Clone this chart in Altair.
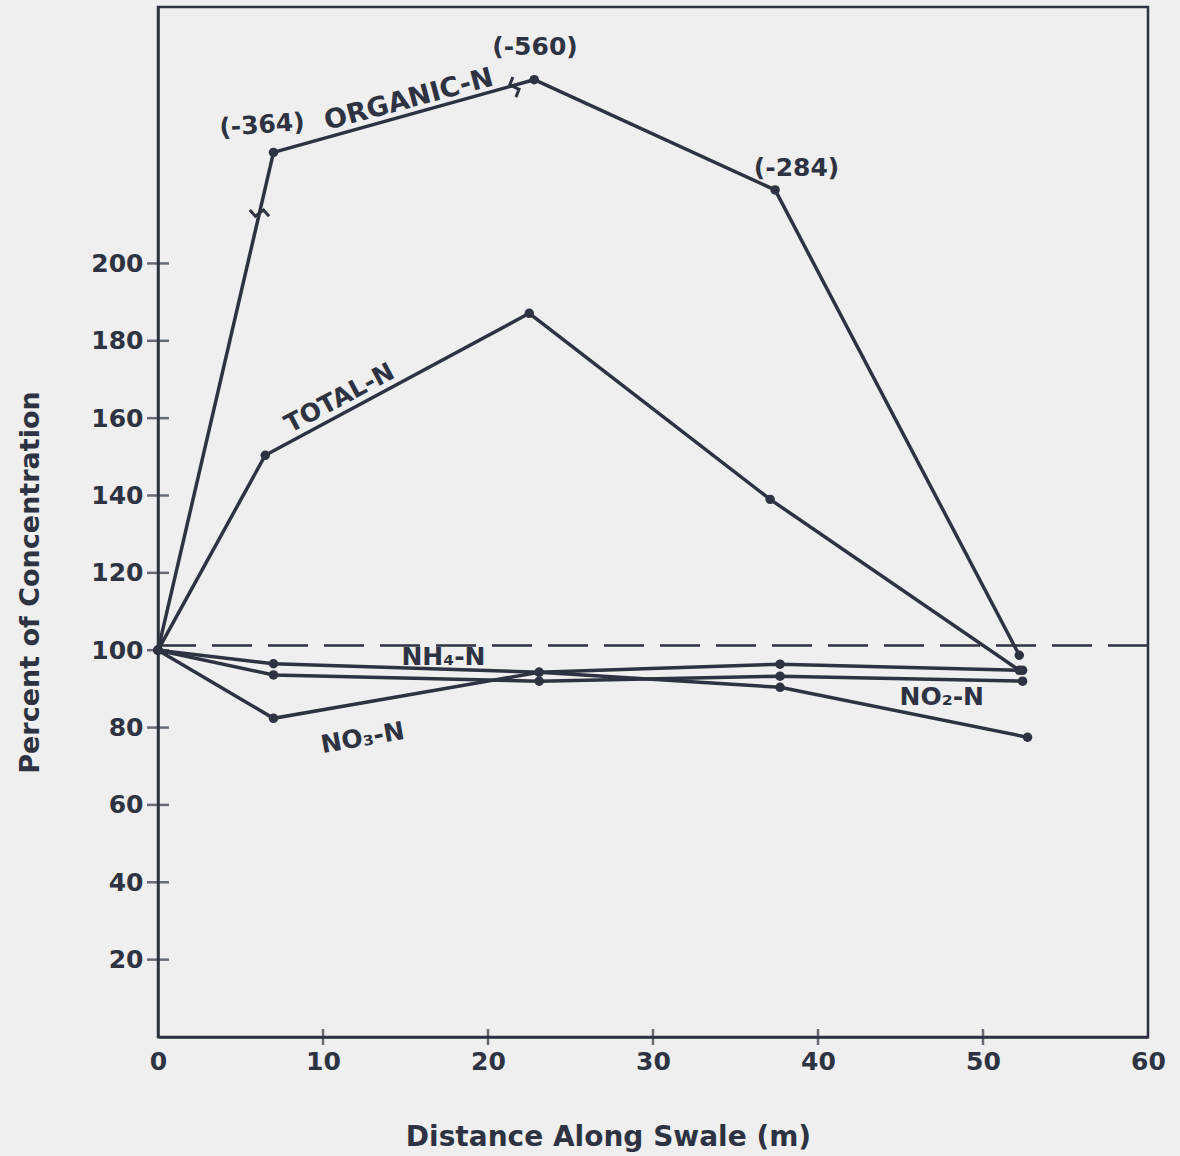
import altair as alt
import pandas as pd

# ---- data ----
x_organic = [0, 7.0, 22.8, 37.4, 52.2]
organic_n = [100, 228.7, 247.5, 219.0, 98.7]
x_total = [0, 6.5, 22.5, 37.1, 52.2]
total_n = [100, 150.4, 187.1, 139.0, 94.8]
x_nh4 = [0, 7.0, 23.1, 37.7, 52.4]
nh4_n = [100, 96.5, 94.3, 96.4, 94.8]
x_no2 = [0, 7.0, 23.1, 37.7, 52.4]
no2_n = [100, 93.6, 92.0, 93.3, 92.0]
x_no3 = [0, 7.0, 23.1, 37.7, 52.7]
no3_n = [100, 82.4, 94.3, 90.4, 77.5]
reference_level = [101.2]

x_tick_values = [0, 10, 20, 30, 40, 50, 60]
y_tick_values = [20, 40, 60, 80, 100, 120, 140, 160, 180, 200]
x_cross_ticks = [10, 20, 30, 40, 50]

label_text = ["(-364)", "(-560)", "(-284)", "TOTAL-N", "NH\u2084-N", "NO\u2083-N", "NO\u2082-N"]
label_x = [6.3, 22.85, 38.7, 11.0, 17.3, 12.4, 47.5]
label_y = [235.8, 256.0, 224.7, 165.2, 98.3, 77.3, 87.9]
label_angle = [356, 0, 0, 332, 0, 350, 0]

organic_label = ["ORGANIC-N"]
organic_label_x = [15.2]
organic_label_y = [242.3]
organic_label_angle = [345]

break_x = [6.15, 21.6]
break_y = [213.0, 245.6]
break_angle = [12, 75]

# ---- build tables ----
rows = []
for name, xs, ys in [("Organic-N", x_organic, organic_n), ("Total-N", x_total, total_n),
                     ("NH4-N", x_nh4, nh4_n), ("NO2-N", x_no2, no2_n), ("NO3-N", x_no3, no3_n)]:
    for i, (xv, yv) in enumerate(zip(xs, ys)):
        rows.append({"series": name, "idx": i, "x": xv, "y": yv})
df = pd.DataFrame(rows)
labels_df = pd.DataFrame({"text": label_text, "x": label_x, "y": label_y, "angle": label_angle})
org_df = pd.DataFrame({"text": organic_label, "x": organic_label_x, "y": organic_label_y,
                       "angle": organic_label_angle})
breaks_df = pd.DataFrame({"x": break_x, "y": break_y, "angle": break_angle})
ref_df = pd.DataFrame({"y": reference_level})
yt_df = pd.DataFrame({"x": [0] * len(y_tick_values), "y": y_tick_values})
xt_df = pd.DataFrame({"x": x_cross_ticks, "y": [0] * len(x_cross_ticks)})

ink = "#2d3342"
bg = "#eeefee"
font = "DejaVu Sans"

xscale = alt.Scale(domain=[0, 60], nice=False, zero=False)
yscale = alt.Scale(domain=[0, 266.3], nice=False, zero=False)

x_axis = alt.Axis(values=x_tick_values, ticks=False, grid=False, domainColor=ink, domainWidth=2.5,
                  labelFont=font, labelFontSize=25, labelFontWeight="bold", labelColor=ink,
                  labelPadding=12, title="Distance Along Swale (m)", titleFont=font,
                  titleFontSize=28, titleFontWeight="bold", titleColor=ink,
                  titleX=450, titleY=100, titleAlign="center", titleBaseline="middle",
                  labelFlush=False)
y_axis = alt.Axis(values=y_tick_values, ticks=False, grid=False, domainColor=ink, domainWidth=2.5,
                  labelFont=font, labelFontSize=25, labelFontWeight="bold", labelColor=ink,
                  labelPadding=15, title="Percent of Concentration", titleFont=font,
                  titleFontSize=27, titleFontWeight="bold", titleColor=ink,
                  titleX=-128, titleY=575, titleAngle=270, titleAlign="center",
                  titleBaseline="middle")

X = alt.X("x:Q", scale=xscale, axis=x_axis)
Y = alt.Y("y:Q", scale=yscale, axis=y_axis)

lines = alt.Chart(df).mark_line(color=ink, strokeWidth=3.5).encode(
    x=X, y=Y, detail="series:N", order="idx:Q",
)
points = alt.Chart(df).mark_circle(color=ink, size=90, opacity=1).encode(x=X, y=Y)
ref = alt.Chart(ref_df).mark_rule(color=ink, strokeWidth=2.5, strokeDash=[40, 16]).encode(y=Y)
ytick = alt.Chart(yt_df).mark_tick(color=ink, orient="horizontal", size=22, thickness=2.5).encode(x=X, y=Y)
xtick = alt.Chart(xt_df).mark_tick(color=ink, orient="vertical", size=16, thickness=2.5).encode(x=X, y=Y)
brk = alt.Chart(breaks_df).mark_point(
    shape="M -0.9 -0.1 L -0.3 0.35 L 0.3 -0.35 L 0.9 0.1", filled=False, color=ink,
    strokeWidth=3, size=500, opacity=1
).encode(x=X, y=Y, angle=alt.Angle("angle:Q", scale=None))
texts = alt.Chart(labels_df).mark_text(font=font, fontSize=25, fontWeight="bold", color=ink,
                                       align="center", baseline="middle").encode(
    x=X, y=Y, text="text:N", angle=alt.Angle("angle:Q", scale=None),
)
org_text = alt.Chart(org_df).mark_text(font=font, fontSize=27, fontWeight="bold", color=ink,
                                       align="center", baseline="middle").encode(
    x=X, y=Y, text="text:N", angle=alt.Angle("angle:Q", scale=None),
)

chart = alt.layer(ref, lines, points, ytick, xtick, brk, texts, org_text).properties(
    width=990, height=1030,
    padding={"left": 158, "top": 7, "right": 32, "bottom": 119},
    autosize="none",
    background=bg,
).configure_view(stroke=ink, strokeWidth=2.5)

chart.save("out.html", embed_options={"renderer": "svg", "actions": False})
